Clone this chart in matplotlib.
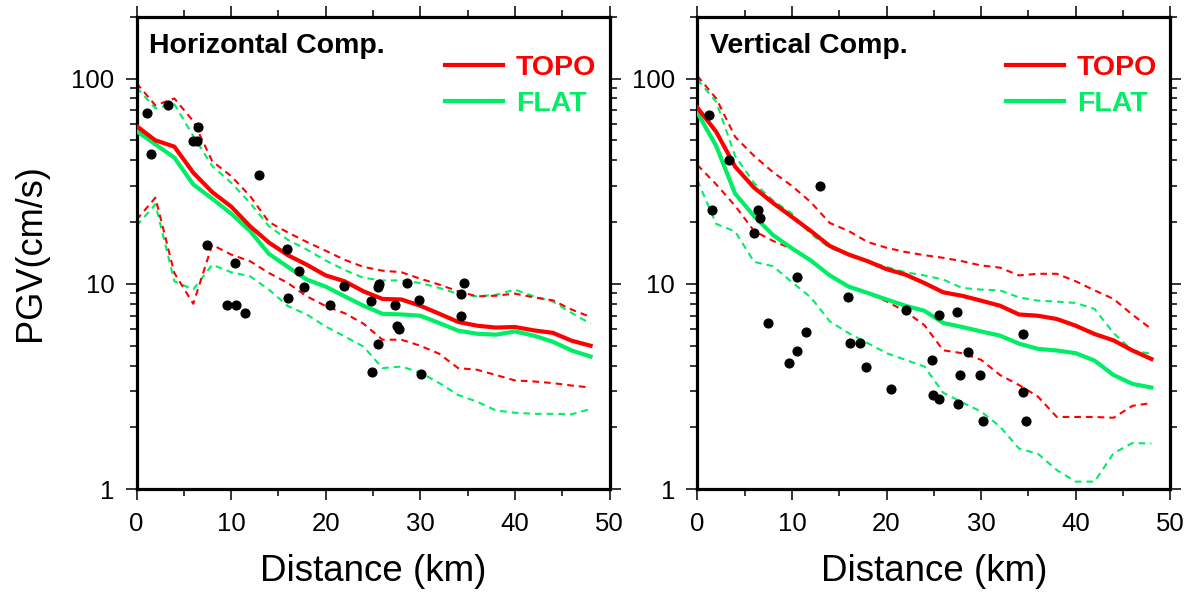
import matplotlib
matplotlib.use("Agg")
import matplotlib.pyplot as plt
from matplotlib.lines import Line2D
from matplotlib.ticker import LogLocator, NullFormatter, MultipleLocator

plt.rcParams['font.family'] = ['Liberation Sans', 'DejaVu Sans']

# ---------------- data ----------------
distance = [0, 2, 4, 6, 8, 10, 12, 14, 16, 18, 20, 22, 24,
            26, 28, 30, 32, 34, 36, 38, 40, 42, 44, 46, 48]

# Horizontal component
h_topo = [58.7, 50, 46.6, 34.8, 28, 23.8, 19.1, 15.9, 13.8, 12.4, 11.0, 10.3, 9.2,
          8.45, 8.4, 7.83, 7.16, 6.53, 6.26, 6.13, 6.17, 5.94, 5.78, 5.29, 5.0]
h_flat = [55.5, 47.8, 41.2, 30.5, 26, 22, 18.1, 14.0, 12.1, 10.5, 9.7, 8.7, 7.83,
          7.15, 7.1, 7.0, 6.45, 5.92, 5.72, 5.66, 5.87, 5.6, 5.23, 4.74, 4.43]
h_topo_hi = [95, 74, 80, 62, 39.6, 33.5, 26.8, 20.0, 17.8, 16.0, 14.5, 13.1, 12.1,
             11.6, 11.4, 10.6, 9.93, 9.2, 8.7, 8.76, 8.97, 8.6, 8.32, 7.5, 6.9]
h_flat_hi = [90.4, 71.6, 75, 52.5, 37.5, 31.1, 24.8, 19.1, 16.4, 14.7, 13.0, 11.7, 10.7,
             10.4, 10.4, 10.1, 9.56, 8.94, 8.7, 8.85, 9.38, 8.7, 8.22, 7.22, 6.4]
h_topo_lo = [20.5, 26.3, 11.3, 8.0, 15.5, 13.9, 12.9, 11.3, 10.1, 8.7, 7.8, 7.2, 6.4,
             5.35, 5.35, 5.0, 4.57, 3.89, 3.82, 3.6, 3.39, 3.35, 3.29, 3.2, 3.13]
h_flat_lo = [19.2, 24.4, 10.3, 9.4, 12.4, 11.4, 10.9, 9.38, 7.8, 7.1, 6.2, 5.55, 4.95,
             3.89, 3.96, 3.7, 3.29, 2.88, 2.67, 2.42, 2.36, 2.33, 2.33, 2.32, 2.46]
h_obs_dist = [1.14, 1.5, 3.36, 6.53, 5.94, 6.36, 12.95, 7.45, 15.9, 10.45, 9.6, 10.55,
              11.44, 17.15, 16.05, 17.7, 20.45, 21.97, 24.76, 25.5, 24.9, 25.56, 25.6,
              28.56, 27.3, 29.86, 27.5, 27.7, 30.1, 34.6, 34.3, 34.3]
h_obs_pgv = [68.3, 43.1, 74.7, 58.1, 49.6, 49.6, 33.9, 15.4, 14.8, 12.65, 7.9, 7.9,
             7.22, 11.5, 8.5, 9.67, 7.9, 9.73, 8.22, 5.08, 3.73, 9.7, 9.95,
             10.1, 7.9, 8.32, 6.21, 6.0, 3.65, 10.1, 8.94, 6.98]

# Vertical component
v_topo = [72.2, 55, 37.2, 29.4, 24.8, 21.2, 18.1, 15.3, 13.9, 12.9, 11.8, 11.1, 10.1,
          9.1, 8.75, 8.29, 7.83, 7.1, 7.0, 6.75, 6.26, 5.7, 5.31, 4.74, 4.31]
v_flat = [68.3, 46.9, 27.5, 21.4, 17.3, 14.9, 13.0, 11.0, 9.7, 9.04, 8.4, 7.83, 7.4,
          6.45, 6.17, 5.87, 5.6, 5.12, 4.83, 4.74, 4.6, 4.23, 3.6, 3.26, 3.13]
v_topo_hi = [103, 80, 52, 42, 35, 30, 25, 19.8, 18.1, 16.0, 15.0, 14.3, 13.8,
             13.4, 12.9, 12.3, 12.0, 11.0, 11.2, 11.2, 10.3, 9.3, 8.45, 7.08, 6.03]
v_flat_hi = [99, 77, 42, 31, 25.5, 22, 17.5, 15.0, 13.8, 12.9, 12.1, 11.4, 11.0,
             10.5, 9.56, 9.38, 9.3, 8.6, 8.29, 8.2, 8.08, 7.55, 5.76, 4.74, 4.57]
v_topo_lo = [38, 30.5, 24, 18.1, 16.2, 14.8, 13.0, 11.1, 9.7, 9.0, 8.22, 7.35, 6.3,
             4.75, 4.6, 4.27, 3.6, 3.22, 2.83, 2.25, 2.25, 2.25, 2.23, 2.55, 2.63]
v_flat_lo = [32, 19.6, 18, 12.8, 12.2, 10.2, 8.6, 6.57, 5.76, 5.15, 4.6, 4.27, 3.96,
             2.95, 2.65, 2.39, 2.02, 1.58, 1.49, 1.24, 1.09, 1.09, 1.5, 1.68, 1.67]
v_obs_dist = [1.27, 3.35, 1.55, 6.38, 6.63, 6.0, 12.97, 10.5, 7.5, 11.5, 10.57, 9.66,
              15.9, 16.1, 17.2, 17.8, 20.5, 22.06, 24.8, 24.9, 25.5, 25.5, 27.4, 28.65,
              27.8, 29.9, 27.6, 30.2, 34.4, 34.4, 34.7]
v_obs_pgv = [66.7, 39.9, 23, 22.8, 21.0, 17.6, 29.9, 10.8, 6.48, 5.83, 4.74, 4.12,
             8.65, 5.13, 5.13, 3.92, 3.08, 7.47, 4.24, 2.88, 2.76, 7.03, 7.33, 4.67,
             3.6, 3.6, 2.61, 2.14, 5.7, 2.98, 2.16]

panel_titles = ['Horizontal Comp.', 'Vertical Comp.']
legend_labels = ['TOPO', 'FLAT']
x_ticks = [0, 10, 20, 30, 40, 50]
y_ticks = [1, 10, 100]
y_ticklabels = ['1', '10', '100']

# ---------------- style ----------------
RED = '#FF0000'
GREEN = '#00EE66'
DASH = (3.2, 2.4)

fig = plt.figure(figsize=(11.93, 5.98), dpi=100)
ax_w, ax_h = 473 / 1193, 472.6 / 598
bottom = 1 - 489.3 / 598
ax1 = fig.add_axes([136.5 / 1193, bottom, ax_w, ax_h])
ax2 = fig.add_axes([697.3 / 1193, bottom, ax_w, ax_h])

panels = [
    (ax1, h_topo, h_flat, h_topo_hi, h_flat_hi, h_topo_lo, h_flat_lo, h_obs_dist, h_obs_pgv),
    (ax2, v_topo, v_flat, v_topo_hi, v_flat_hi, v_topo_lo, v_flat_lo, v_obs_dist, v_obs_pgv),
]

for i, (ax, topo, flat, topo_hi, flat_hi, topo_lo, flat_lo, od, op) in enumerate(panels):
    ax.set_yscale('log')
    ax.set_xlim(0, 50)
    ax.set_ylim(1, 200)

    for series, col in [(flat_hi, GREEN), (flat_lo, GREEN), (topo_hi, RED), (topo_lo, RED)]:
        ax.plot(distance, series, color=col, lw=1.5, dashes=DASH, zorder=2)
    ax.plot(distance, flat, color=GREEN, lw=3.0, zorder=3, solid_joinstyle='round')
    ax.plot(distance, topo, color=RED, lw=3.0, zorder=4, solid_joinstyle='round')
    ax.plot(od, op, 'o', color='black', ms=6.3, mec='black', zorder=5)

    for s in ax.spines.values():
        s.set_linewidth(2.3)

    ax.set_xticks(x_ticks)
    ax.xaxis.set_minor_locator(MultipleLocator(5))
    ax.set_yticks(y_ticks)
    ax.set_yticklabels(y_ticklabels)
    ax.yaxis.set_minor_locator(LogLocator(base=10, subs=range(2, 10)))
    ax.yaxis.set_minor_formatter(NullFormatter())
    ax.tick_params(which='both', direction='out', top=True, right=True,
                   labelsize=18.5, width=1.1, color='black')
    ax.tick_params(which='major', length=8, pad=8)
    ax.tick_params(which='minor', length=5)

    ax.set_xlabel('Distance (km)', fontsize=26.5, labelpad=13)
    if i == 0:
        ax.set_ylabel('PGV(cm/s)', fontsize=26, labelpad=17)

    ax.text(0.027, 0.9226, panel_titles[i], transform=ax.transAxes,
            fontsize=20.5, fontweight='bold', ha='left', va='baseline')

    handles = [Line2D([], [], color=RED, lw=3.0), Line2D([], [], color=GREEN, lw=3.0)]
    leg = ax.legend(handles, legend_labels, loc='upper right',
                    bbox_to_anchor=(0.972, 0.918), frameon=False,
                    prop={'size': 20.5, 'weight': 'bold'},
                    handlelength=2.05, handletextpad=0.45, labelspacing=0.33,
                    borderpad=0, borderaxespad=0)
    for t, col in zip(leg.get_texts(), [RED, GREEN]):
        t.set_color(col)

fig.savefig('out.png', dpi=100)
